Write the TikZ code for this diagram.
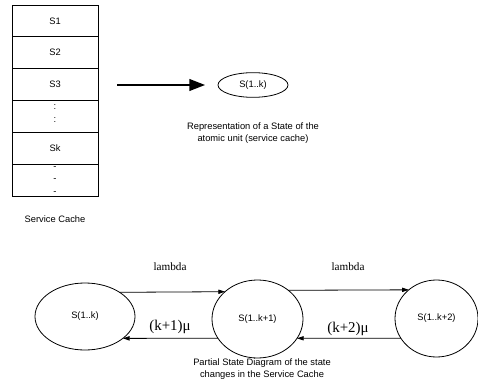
\documentclass[tikz,border=0pt]{standalone}
\usepackage{fontspec}
\setmainfont{Liberation Sans}
\newfontfamily\tmsfont{Liberation Serif}
\usetikzlibrary{arrows.meta,shapes.geometric}
\begin{document}
\begin{tikzpicture}[x=0.75pt,y=-0.75pt,
  every node/.style={font=\fontsize{7.0}{8}\selectfont, inner sep=0pt, outer sep=0pt},
  cell/.style={draw, line width=0.6pt, minimum width=64.5pt, minimum height=23.87pt},
  state/.style={draw, ellipse, line width=0.6pt},
  caption/.style={align=center, font=\fontsize{7.0}{9}\selectfont},
  rate/.style={font=\tmsfont\fontsize{8.4}{9}\selectfont},
  mu/.style={font=\tmsfont\fontsize{11.2}{12}\selectfont},
  trans/.style={line width=0.6pt, -{Triangle[length=5pt,width=3.2pt]}},
  bigarrow/.style={line width=2.2pt, -{Triangle[length=12pt,width=8.5pt]}}]
\useasboundingbox (0,0) rectangle (478,381);
% service cache stack
\node[cell] (c1) at (55,20.9) {S1};
\node[cell] (c2) at (55,52.7) {S2};
\node[cell] (c3) at (55,84.6) {S3};
\node[cell] (c4) at (55,116.4) {};
\node[cell] (c5) at (55,148.2) {Sk};
\node[cell] (c6) at (55,180.1) {};
\node (d1) at (55,107) {:};
\node (d2) at (55,120) {:};
\node (e1) at (55,168) {-};
\node (e2) at (55,180.5) {-};
\node (e3) at (55,193) {-};
\node (sc) at (55,219) {Service Cache};
% representation
\coordinate (a0) at (117,85);
\node[state, minimum width=52.5pt, minimum height=18.5pt] (top) at (253,85) {S(1..k)};
\draw[bigarrow, shorten >=9.5pt] (a0) -- (top);
\node[caption] (cap1) at (253,133) {Representation of a State of the\\atomic unit (service cache)};
% partial state diagram
\node[state, minimum width=75pt, minimum height=50.25pt] (s1) at (85,316.5) {S(1..k)};
\node[state, minimum width=68.25pt, minimum height=58.5pt] (s2) at (257.5,319) {S(1..k+1)};
\node[state, minimum width=62.25pt, minimum height=57.75pt] (s3) at (436.5,318.5) {S(1..k+2)};
\draw[trans] (s1.35.7) -- (s2.140.5);
\draw[trans] (s2.43.65) -- (s3.134.4);
\draw[trans] (s2.206.0) -- (s1.-30.5);
\draw[trans] (s3.209.0) -- (s2.-26.0);
\node[rate] (l1) at (170,267) {lambda};
\node[rate] (l2) at (348,267) {lambda};
\node[mu] (m1) at (170,327) {(k+1)μ};
\node[mu] (m2) at (348,329) {(k+2)μ};
\node[caption] (cap2) at (262,369.5) {Partial State Diagram of the state\\changes in the Service Cache};
\end{tikzpicture}
\end{document}
